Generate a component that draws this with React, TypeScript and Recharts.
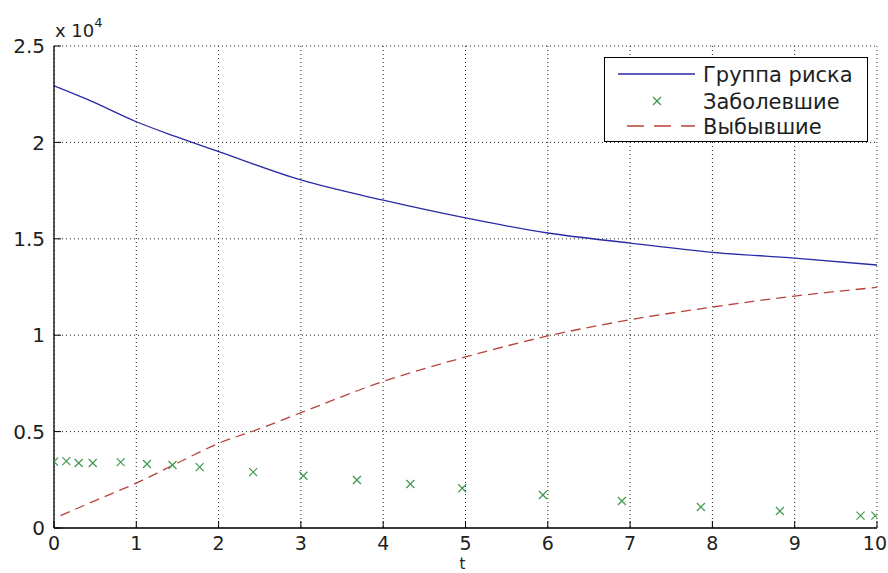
import {
  ComposedChart,
  Line,
  Scatter,
  XAxis,
  YAxis,
  CartesianGrid,
  Legend,
  Customized,
} from "recharts";

const FONT = "'DejaVu Sans', 'Liberation Sans', sans-serif";
const BLUE = "#2a2aa6";
const GREEN = "#3f9a50";
const RED = "#b8443c";
const INK = "#1e1e1e";

// axes
const xTicks = [0, 1, 2, 3, 4, 5, 6, 7, 8, 9, 10];
const yTicks = [0, 5000, 10000, 15000, 20000, 25000];
const yTickLabels = ["0", "0.5", "1", "1.5", "2", "2.5"];
const seriesNames = ["Группа риска", "Заболевшие", "Выбывшие"];

// Группа риска
const riskT = [0, 0.4, 1, 1.5, 2, 3, 4, 5, 6, 7, 8, 9, 10];
const riskN = [22940, 22240, 21070, 20270, 19520, 18050, 17000, 16080, 15300, 14780, 14300, 14000, 13640];

// Заболевшие
const sickT = [0, 0.15, 0.3, 0.47, 0.81, 1.13, 1.44, 1.77, 2.42, 3.03, 3.68, 4.33, 4.96, 5.94, 6.9, 7.86, 8.82, 9.8, 9.98];
const sickN = [3440, 3470, 3370, 3370, 3420, 3320, 3270, 3160, 2900, 2710, 2490, 2280, 2060, 1710, 1400, 1090, 880, 640, 640];

// Выбывшие
const outT = [0.08, 0.5, 1, 1.5, 2, 2.5, 3, 4, 5, 6, 7, 8, 9, 10];
const outN = [640, 1420, 2330, 3370, 4390, 5150, 5980, 7600, 8870, 9960, 10800, 11460, 12030, 12480];

const riskData = riskT.map((t, i) => ({ t, v: riskN[i] }));
const sickData = sickT.map((t, i) => ({ t, v: sickN[i] }));
const outData = outT.map((t, i) => ({ t, v: outN[i] }));

const TICK_GAP = 9;
const X_GAP = 8;
const TICK_LEN = 7;

function XMark({ cx, cy }: { cx?: number; cy?: number }) {
  if (cx == null || cy == null) return null;
  const s = 4;
  return (
    <g stroke={GREEN} strokeWidth={1.2}>
      <line x1={cx - s} y1={cy - s} x2={cx + s} y2={cy + s} />
      <line x1={cx - s} y1={cy + s} x2={cx + s} y2={cy - s} />
    </g>
  );
}

const BottomTick = ({ x, y, payload }: any) => {
  const axisY = y - X_GAP;
  // last label would run past the right edge, so pin it to its end
  const last = payload.value === xTicks[xTicks.length - 1];
  return (
    <g>
      <line x1={x} y1={axisY} x2={x} y2={axisY - TICK_LEN} stroke="#000" />
      <text
        x={last ? x + 10 : x}
        y={y}
        dy="0.72em"
        textAnchor={last ? "end" : "middle"}
        fontSize={19}
        fontFamily={FONT}
        fill={INK}
      >
        {payload.value}
      </text>
    </g>
  );
};

const LeftTick = ({ x, y, payload, index }: any) => {
  const axisX = x + TICK_GAP;
  return (
    <g>
      <line x1={axisX} y1={y} x2={axisX + TICK_LEN} y2={y} stroke="#000" />
      <text x={x} y={y} dy="0.36em" textAnchor="end" fontSize={20} fontFamily={FONT} fill={INK}>
        {yTickLabels[yTicks.indexOf(payload.value)] ?? yTickLabels[index]}
      </text>
    </g>
  );
};

const TopTick = ({ x, y }: any) => (
  <line x1={x} y1={y} x2={x} y2={y + TICK_LEN} stroke="#000" />
);

const RightTick = ({ x, y }: any) => (
  <line x1={x} y1={y} x2={x - TICK_LEN} y2={y} stroke="#000" />
);

const LegendBox = () => {
  const rows = [17, 44, 69];
  return (
    <svg width={264} height={85} style={{ display: "block" }}>
      <rect x={0.5} y={0.5} width={263} height={84} fill="#fff" stroke="#000" />
      <line x1={14} y1={rows[0]} x2={91} y2={rows[0]} stroke={BLUE} strokeWidth={1.3} />
      <XMark cx={53} cy={rows[1]} />
      <line x1={23} y1={rows[2]} x2={91} y2={rows[2]} stroke={RED} strokeWidth={1.3} strokeDasharray="17 10" />
      {seriesNames.map((name, i) => (
        <text key={name} x={99} y={rows[i]} dy="0.36em" fontSize={21} fontFamily={FONT} fill={INK}>
          {name}
        </text>
      ))}
    </svg>
  );
};

const ExponentLabel = () => (
  <text x={55} y={37} fontSize={18} fontFamily={FONT} fill={INK}>
    x 10
    <tspan fontSize={13} dy={-10}>4</tspan>
  </text>
);

export default function App() {
  return (
    <div
      style={{
        position: "absolute",
        left: 0,
        top: 0,
        width: 888,
        height: 573,
        background: "#fff",
        fontFamily: FONT,
      }}
    >
      <ComposedChart
        width={888}
        height={573}
        margin={{ top: 46, right: 11, left: 0, bottom: 0 }}
      >
        <CartesianGrid stroke="#222" strokeDasharray="1 3" />
        <XAxis
          dataKey="t"
          type="number"
          domain={[0, 10]}
          ticks={xTicks}
          interval={0}
          allowDataOverflow
          height={45}
          tickSize={0}
          tickMargin={X_GAP}
          tickLine={false}
          axisLine={{ stroke: "#000", strokeWidth: 1.3 }}
          tick={BottomTick}
          label={{ value: "t", position: "bottom", offset: -15, fontSize: 15, fill: INK, fontFamily: FONT, dx: -3 }}
        />
        <XAxis
          xAxisId="top"
          orientation="top"
          dataKey="t"
          type="number"
          domain={[0, 10]}
          ticks={xTicks}
          interval={0}
          height={0}
          tickSize={0}
          tickMargin={0}
          tickLine={false}
          axisLine={{ stroke: "#000", strokeWidth: 1.3 }}
          tick={TopTick}
        />
        <YAxis
          type="number"
          domain={[0, 25000]}
          ticks={yTicks}
          interval={0}
          allowDataOverflow
          width={54}
          tickSize={0}
          tickMargin={TICK_GAP}
          tickLine={false}
          axisLine={{ stroke: "#000", strokeWidth: 1.3 }}
          tick={LeftTick}
        />
        <YAxis
          yAxisId="right"
          orientation="right"
          type="number"
          domain={[0, 25000]}
          ticks={yTicks}
          interval={0}
          width={0}
          tickSize={0}
          tickMargin={0}
          tickLine={false}
          axisLine={{ stroke: "#000", strokeWidth: 1.3 }}
          tick={RightTick}
        />
        <Line
          data={riskData}
          dataKey="v"
          name={seriesNames[0]}
          type="monotone"
          stroke={BLUE}
          strokeWidth={1.3}
          dot={false}
          isAnimationActive={false}
        />
        <Scatter
          data={sickData}
          dataKey="v"
          name={seriesNames[1]}
          shape={<XMark />}
          isAnimationActive={false}
        />
        <Line
          data={outData}
          dataKey="v"
          name={seriesNames[2]}
          type="monotone"
          stroke={RED}
          strokeWidth={1.3}
          strokeDasharray="10 6"
          dot={false}
          isAnimationActive={false}
        />
        <Customized component={ExponentLabel} />
        <Legend
          layout="vertical"
          align="center"
          verticalAlign="middle"
          content={LegendBox}
          wrapperStyle={{ top: 57, left: 604, width: 264, height: 85 }}
        />
      </ComposedChart>
    </div>
  );
}
